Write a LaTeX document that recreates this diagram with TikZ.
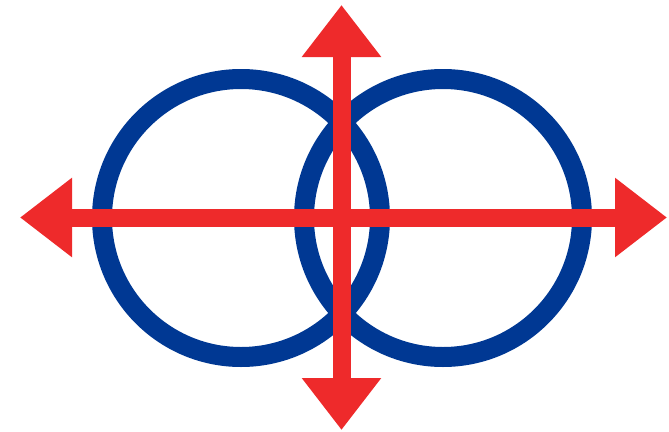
\documentclass[tikz,border=0pt]{standalone}
\usetikzlibrary{arrows.meta}
\definecolor{ringblue}{HTML}{003893}
\definecolor{arrowred}{HTML}{EE2A2B}

\begin{document}
\begin{tikzpicture}[x=1pt, y=-1pt,
  ring/.style={circle, draw=ringblue, line width=20pt, inner sep=0pt, minimum size=278pt},
  arr/.style={arrowred, line width=18pt, {Triangle[width=76pt,length=52pt]}-{Triangle[width=76pt,length=52pt]}}]
\useasboundingbox (0,0) rectangle (669,431);
\node[ring] (lring) at (241,218) {};
\node[ring] (rring) at (443,218) {};
\coordinate (west) at (20,217.5);
\coordinate (east) at (667,217.5);
\coordinate (north) at (341.5,5);
\coordinate (south) at (341.5,430);
\draw[arr] (west) -- (east);
\draw[arr] (north) -- (south);
\end{tikzpicture}
\end{document}
